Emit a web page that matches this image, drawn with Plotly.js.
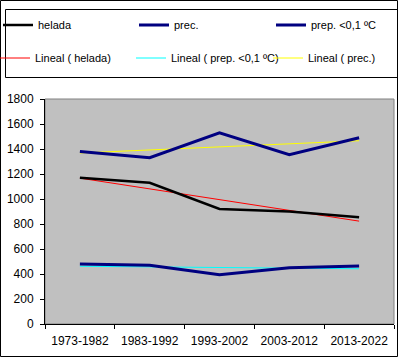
<!DOCTYPE html>
<html>
<head>
<meta charset="utf-8">
<script src="https://cdn.plot.ly/plotly-3.0.1.min.js"></script>
<style>
html,body{margin:0;padding:0;background:#fff;}
#chart{width:399px;height:358px;}
</style>
</head>
<body>
<div id="chart"></div>
<script>
var categories = ["1973-1982", "1983-1992", "1993-2002", "2003-2012", "2013-2022"];
var helada = [1170, 1130, 920, 900, 855];
var prec = [1380, 1330, 1530, 1355, 1490];
var prepBajo = [480, 470, 395, 450, 465];
var seriesNames = ["helada", "prec.", "prep. <0,1 \u00baC"];
var trendNames = ["Lineal ( helada)", "Lineal ( prep. <0,1 \u00baC)", "Lineal ( prec.)"];
var yTicks = [0, 200, 400, 600, 800, 1000, 1200, 1400, 1600, 1800];

// Excel-style linear trendline (least squares over category index)
function linear(vals) {
  var n = vals.length, sx = 0, sy = 0, sxy = 0, sxx = 0;
  for (var i = 0; i < n; i++) { sx += i; sy += vals[i]; sxy += i * vals[i]; sxx += i * i; }
  var b = (n * sxy - sx * sy) / (n * sxx - sx * sx);
  var a = (sy - b * sx) / n;
  return vals.map(function (_, i) { return a + b * i; });
}

var font = "Liberation Sans, Arial, sans-serif";

var L = 45, R = 394, T = 99, B = 324, W = 399, H = 358;
function px(x) { return (x - L) / (R - L); }
function py(y) { return (B - y) / (B - T); }

var traces = [
  {x: categories, y: linear(helada), name: trendNames[0], mode: "lines", line: {color: "#FF0000", width: 1}, legend: "legend4"},
  {x: categories, y: linear(prepBajo), name: trendNames[1], mode: "lines", line: {color: "#00FFFF", width: 1}, legend: "legend5"},
  {x: categories, y: linear(prec), name: trendNames[2], mode: "lines", line: {color: "#FFFF00", width: 1}, legend: "legend6"},
  {x: categories, y: helada, name: seriesNames[0], mode: "lines", line: {color: "#000000", width: 2.5}, legend: "legend"},
  {x: categories, y: prec, name: seriesNames[1], mode: "lines", line: {color: "#000080", width: 3}, legend: "legend2"},
  {x: categories, y: prepBajo, name: seriesNames[2], mode: "lines", line: {color: "#000080", width: 3}, legend: "legend3"}
];

// legend text start x (pixels) and row centre y (pixels)
var legendSpots = [[38, 25], [174, 25], [311, 25], [35, 58], [171, 58], [308, 58]];
function legendAt(spot) {
  return {
    orientation: "h", xref: "paper", yref: "paper",
    x: px(spot[0] - 40), y: py(spot[1]), xanchor: "left", yanchor: "middle",
    bgcolor: "rgba(0,0,0,0)", borderwidth: 0,
    font: {family: font, size: 11, color: "#000000"}
  };
}

var layout = {
  width: W, height: H,
  margin: {l: L, r: W - R, t: T, b: H - B, pad: 0, autoexpand: false},
  paper_bgcolor: "#FFFFFF",
  plot_bgcolor: "#C0C0C0",
  font: {family: font, size: 12, color: "#000000"},
  showlegend: true,
  legend: legendAt(legendSpots[0]),
  legend2: legendAt(legendSpots[1]),
  legend3: legendAt(legendSpots[2]),
  legend4: legendAt(legendSpots[3]),
  legend5: legendAt(legendSpots[4]),
  legend6: legendAt(legendSpots[5]),
  xaxis: {
    type: "category", range: [-0.5, 4.5], tickson: "boundaries", ticks: "outside", ticklen: 4,
    tickcolor: "#000000", showline: true, linecolor: "#000000", linewidth: 1,
    showgrid: false, zeroline: false, fixedrange: true, automargin: false,
    tickfont: {family: font, size: 12, color: "#000000"},
    ticklabelstandoff: 6
  },
  yaxis: {
    range: [0, 1800], tickvals: yTicks, ticks: "outside", ticklen: 4,
    tickcolor: "#000000", showline: true, linecolor: "#000000", linewidth: 1,
    showgrid: false, zeroline: false, fixedrange: true, automargin: false,
    tickfont: {family: font, size: 12, color: "#000000"},
    ticklabelstandoff: 4
  },
  shapes: [
    {type: "rect", xref: "paper", yref: "paper", x0: 0, x1: 1, y0: 0, y1: 1,
     line: {color: "#808080", width: 1}, layer: "below"},
    {type: "rect", xref: "paper", yref: "paper", x0: px(5.5), x1: px(397.5), y0: py(77.5), y1: py(9.5),
     line: {color: "#000000", width: 1}},
    {type: "rect", xref: "paper", yref: "paper", x0: px(0.5), x1: px(397.5), y0: py(356.5), y1: py(0.5),
     line: {color: "#000000", width: 1}}
  ]
};

Plotly.newPlot("chart", traces, layout, {displayModeBar: false, staticPlot: true});
</script>
</body>
</html>
